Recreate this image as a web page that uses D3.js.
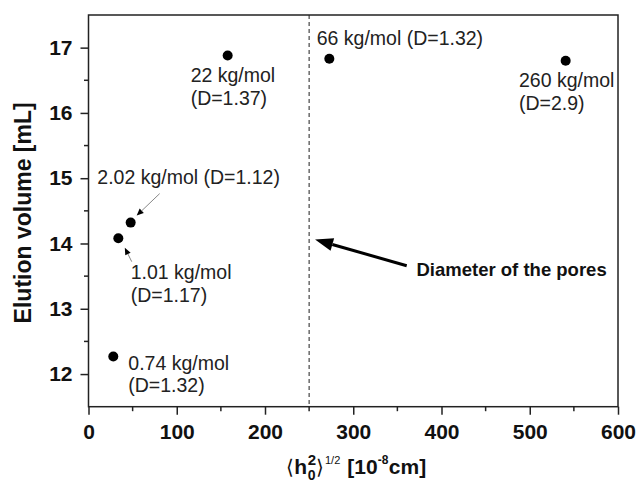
<!DOCTYPE html>
<html>
<head>
<meta charset="utf-8">
<script src="https://cdn.jsdelivr.net/npm/d3@7"></script>
<style>
  html, body { margin: 0; padding: 0; background: #fff; }
  svg { display: block; }
  text { font-family: "Liberation Sans", Arial, sans-serif; }
</style>
</head>
<body>
<svg id="chart" width="637" height="483"></svg>
<script>
// ---------------- data ----------------
const massLabels = ["0.74 kg/mol", "1.01 kg/mol", "2.02 kg/mol", "22 kg/mol", "66 kg/mol", "260 kg/mol"];
const dispersity = ["1.32", "1.17", "1.12", "1.37", "1.32", "2.9"];
const rmsDistance = [28.1, 33.8, 47.8, 157.7, 272.9, 540.7];
const elutionVolume = [12.27, 14.08, 14.32, 16.88, 16.83, 16.80];
const xTickValues = [0, 100, 200, 300, 400, 500, 600];
const yTickValues = [12, 13, 14, 15, 16, 17];
const poreDiameter = 250;
const poreLabel = "Diameter of the pores";
const yTitle = "Elution volume [mL]";

// ---------------- layout ----------------
const margin = { left: 88.5, right: 19, top: 15, bottom: 76.3 };
const W = 637, H = 483;
const labelLayout = [
  { dx: 15, dy: [13.5, 36] },
  { dx: 12.4, dy: [40.7, 64] },
  { dx: -33.4, dy: [-39], single: true },
  { dx: -37, dy: [27, 50] },
  { dx: -12.6, dy: [-13.3], single: true },
  { dx: -46.7, dy: [26, 49] }
];
const pointers = [
  { i: 2, tail: [29, -29], tip: [6, -7] },
  { i: 1, tail: [13.4, 23.4], tip: [6.5, 9.5] }
];

const svg = d3.select("#chart");
const x = d3.scaleLinear().domain([0, 600]).range([margin.left, W - margin.right]);
const y = d3.scaleLinear().domain([11.5, 17.5]).range([H - margin.bottom, margin.top]);
const x0 = x.range()[0], x1 = x.range()[1], yb = y.range()[0], yt = y.range()[1];

// dashed pore line
svg.append("line")
  .attr("x1", x(poreDiameter)).attr("x2", x(poreDiameter))
  .attr("y1", yt).attr("y2", yb)
  .attr("stroke", "#333").attr("stroke-width", 1.1)
  .attr("stroke-dasharray", "4,3");

// frame
svg.append("rect")
  .attr("x", x0).attr("y", yt).attr("width", x1 - x0).attr("height", yb - yt)
  .attr("fill", "none").attr("stroke", "#222").attr("stroke-width", 1.5);

// x axis
const xMinor = d3.range(50, 600, 100);
const gx = svg.append("g").attr("transform", `translate(0,${yb})`);
gx.call(d3.axisBottom(x).tickValues(xTickValues).tickSize(8).tickPadding(9).tickFormat(d3.format("d")))
  .call(g => g.select(".domain").remove());
gx.selectAll(".tick line").attr("stroke", "#222").attr("stroke-width", 1.5);
gx.selectAll(".tick text").attr("font-size", 21).attr("font-weight", "bold").attr("fill", "#111")
  .attr("font-family", "'Liberation Sans', Arial, sans-serif");
gx.selectAll(".minor").data(xMinor).enter().append("line")
  .attr("x1", d => x(d)).attr("x2", d => x(d)).attr("y1", 0).attr("y2", 4.5)
  .attr("stroke", "#222").attr("stroke-width", 1.5);

// y axis
const yMinor = d3.range(12.5, 17.01, 1);
const gy = svg.append("g").attr("transform", `translate(${x0},0)`);
gy.call(d3.axisLeft(y).tickValues(yTickValues).tickSize(8).tickPadding(8).tickFormat(d3.format("d")))
  .call(g => g.select(".domain").remove());
gy.selectAll(".tick line").attr("stroke", "#222").attr("stroke-width", 1.5);
gy.selectAll(".tick text").attr("font-size", 21).attr("font-weight", "bold").attr("fill", "#111")
  .attr("font-family", "'Liberation Sans', Arial, sans-serif");
gy.selectAll(".minor").data(yMinor).enter().append("line")
  .attr("x1", 0).attr("x2", -4.5).attr("y1", d => y(d)).attr("y2", d => y(d))
  .attr("stroke", "#222").attr("stroke-width", 1.5);

// y title
svg.append("text")
  .attr("transform", `translate(31,${(yt + yb) / 2 + 2}) rotate(-90)`)
  .attr("text-anchor", "middle")
  .attr("font-size", 23).attr("font-weight", "bold").attr("fill", "#111")
  .text(yTitle);

// x title built from pieces
const xt = svg.append("g");
const base = 474;
let cx = 0;
function piece(txt, size, weight, dy) {
  return xt.append("text").attr("x", cx).attr("y", base + dy)
    .attr("font-size", size).attr("font-weight", weight).attr("fill", "#111").text(txt);
}
let p = piece("\u27E8", 20, "normal", 0); cx += p.node().getComputedTextLength();
p = piece("h", 21, "bold", 0); cx += p.node().getComputedTextLength() + 0.5;
const sup2 = piece("2", 15, "bold", -9);
const sub0 = piece("0", 14, "bold", 6);
cx += Math.max(sup2.node().getComputedTextLength(), sub0.node().getComputedTextLength());
p = piece("\u27E9", 20, "normal", 0); cx += p.node().getComputedTextLength() + 1;
p = piece("1/2", 11, "normal", -10); p.attr("font-family", "'Liberation Serif', 'Times New Roman', serif");
cx += p.node().getComputedTextLength() + 7;
p = piece("[10", 21, "bold", 0); cx += p.node().getComputedTextLength();
p = piece("-8", 12, "bold", -10); cx += p.node().getComputedTextLength() + 0.5;
p = piece("cm]", 21, "bold", 0); cx += p.node().getComputedTextLength();
xt.attr("transform", `translate(${(x0 + x1) / 2 + 3 - cx / 2},0)`);

// points
const pts = d3.range(rmsDistance.length).map(i => ({ x: rmsDistance[i], y: elutionVolume[i], i }));
svg.selectAll("circle.pt").data(pts).enter().append("circle")
  .attr("class", "pt")
  .attr("cx", d => x(d.x)).attr("cy", d => y(d.y)).attr("r", 5)
  .attr("fill", "#000");

// labels
pts.forEach(d => {
  const L = labelLayout[d.i];
  const px = x(d.x), py = y(d.y);
  const lines = L.single ? [`${massLabels[d.i]} (D=${dispersity[d.i]})`]
                         : [massLabels[d.i], `(D=${dispersity[d.i]})`];
  lines.forEach((s, k) => {
    svg.append("text").attr("x", px + L.dx).attr("y", py + L.dy[k])
      .attr("font-size", 19.5).attr("fill", "#222").text(s);
  });
});

function arrowHead(tx, ty, fx, fy, len, halfW, color) {
  const a = Math.atan2(ty - fy, tx - fx);
  const bx = tx - len * Math.cos(a), by = ty - len * Math.sin(a);
  const nx = -Math.sin(a), ny = Math.cos(a);
  svg.append("path")
    .attr("d", `M${tx},${ty}L${bx + nx * halfW},${by + ny * halfW}L${bx - nx * halfW},${by - ny * halfW}Z`)
    .attr("fill", color);
  return [bx, by];
}

pointers.forEach(pt => {
  const px = x(rmsDistance[pt.i]), py = y(elutionVolume[pt.i]);
  const tx = px + pt.tip[0], ty = py + pt.tip[1];
  const fx = px + pt.tail[0], fy = py + pt.tail[1];
  const [bx, by] = arrowHead(tx, ty, fx, fy, 7, 3, "#000");
  svg.append("line").attr("x1", fx).attr("y1", fy).attr("x2", bx).attr("y2", by)
    .attr("stroke", "#888").attr("stroke-width", 1);
});

// big pore arrow (data coordinates)
const bigTip = [256.7, 14.06], bigTail = [360.6, 13.66];
{
  const tx = x(bigTip[0]), ty = y(bigTip[1]);
  const fx = x(bigTail[0]), fy = y(bigTail[1]);
  const [bx, by] = arrowHead(tx, ty, fx, fy, 18, 6.5, "#000");
  svg.append("line").attr("x1", fx).attr("y1", fy).attr("x2", bx).attr("y2", by)
    .attr("stroke", "#000").attr("stroke-width", 3);
}
svg.append("text").attr("x", 416.5).attr("y", 276)
  .attr("font-size", 18.5).attr("font-weight", "bold").attr("fill", "#111")
  .text(poreLabel);
</script>
</body>
</html>
